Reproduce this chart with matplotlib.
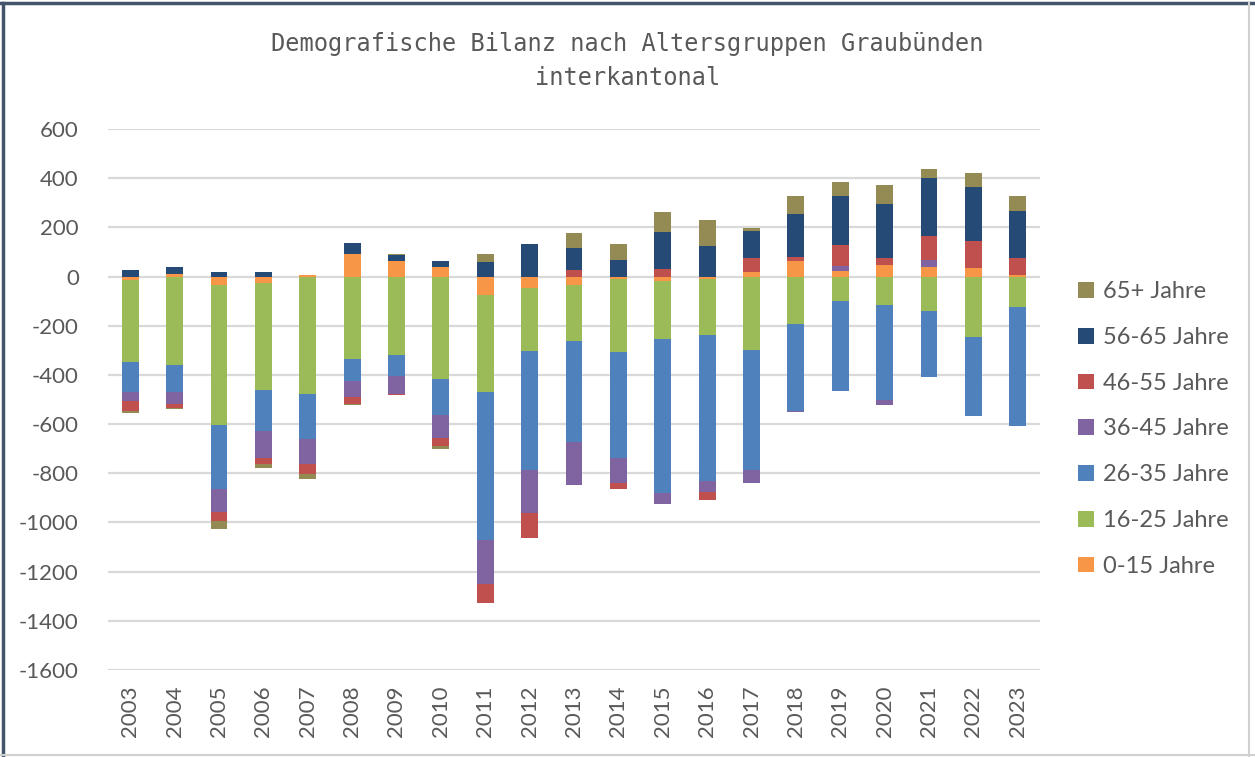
import matplotlib.pyplot as plt
import numpy as np
from matplotlib.patches import Patch
from matplotlib.lines import Line2D

plt.rcParams["axes.unicode_minus"] = False

years = [str(y) for y in range(2003, 2024)]
groups = ["0-15 Jahre", "16-25 Jahre", "26-35 Jahre", "36-45 Jahre",
          "46-55 Jahre", "56-65 Jahre", "65+ Jahre"]
colors = ["#F79646", "#9BBB59", "#4F81BD", "#8064A2",
          "#C0504D", "#254A75", "#948A54"]

# values per age group, 2003..2023
g0_15 = [-13, 10, -33, -27, 7, 92, 62, 37, -77, -46, -33, -12, -19, -12, 18, 65, 22, 45, 38, 35, 8]
g16_25 = [-335, -359, -569, -434, -477, -336, -318, -416, -393, -258, -230, -296, -234, -224, -298, -195, -100, -114, -142, -244, -122]
g26_35 = [-120, -109, -261, -169, -183, -89, -87, -145, -600, -482, -410, -429, -628, -597, -488, -352, -367, -387, -265, -325, -484]
g36_45 = [-40, -50, -95, -107, -104, -63, -72, -96, -182, -176, -174, -103, -43, -44, -53, -5, 19, -23, 31, 0, 0]
g46_55 = [-37, -16, -37, -25, -38, -30, -4, -33, -74, -102, 27, -23, 31, -31, 57, 14, 88, 30, 95, 109, 68]
g56_65 = [27, 27, 18, 18, 0, 46, 25, 28, 61, 133, 90, 68, 152, 123, 112, 176, 197, 220, 237, 219, 192]
g65 = [-11, -4, -33, -17, -23, -4, 3, -10, 31, 0, 59, 65, 81, 105, 9, 72, 57, 78, 37, 58, 59]

series = [g0_15, g16_25, g26_35, g36_45, g46_55, g56_65, g65]

fig = plt.figure(figsize=(12.55, 7.57), dpi=100, facecolor="white")
ax = fig.add_axes([108 / 1255, 1 - 670 / 757, 932 / 1255, 541 / 757])

x = np.arange(len(years))
pos = np.zeros(len(years))
neg = np.zeros(len(years))
for vals, col in zip(series, colors):
    v = np.array(vals, dtype=float)
    base = np.where(v >= 0, pos, neg)
    ax.bar(x, v, 0.38, bottom=base, color=col, zorder=3)
    pos = pos + np.where(v >= 0, v, 0)
    neg = neg + np.where(v < 0, v, 0)

ax.set_xlim(-0.5, len(years) - 0.5)
ax.set_ylim(-1600, 600)
ax.set_yticks(range(-1600, 601, 200))
ax.yaxis.grid(True, color="#D9D9D9", linewidth=1.6, zorder=0)
ax.set_xticks(x)
ax.set_xticklabels(years, rotation=90)
for s in ax.spines.values():
    s.set_visible(False)
ax.tick_params(length=0, labelsize=16, colors="#595959", labelfontfamily="Lato")
ax.tick_params(axis="y", pad=21)
ax.tick_params(axis="x", pad=11)

fig.text(0.5, 1 - 61 / 757, "Demografische Bilanz nach Altersgruppen Graubünden\ninterkantonal",
         ha="center", va="center", fontsize=17, family="DejaVu Sans Mono",
         color="#595959", linespacing=1.55)

handles = [Patch(facecolor=c, edgecolor="none") for c in colors][::-1]
fig.legend(handles, groups[::-1], loc="center left",
           bbox_to_anchor=(1057 / 1255, 1 - 429 / 757), frameon=False,
           prop={"family": "Lato", "size": 17}, labelcolor="#595959",
           handlelength=0.65, handleheight=0.65, handletextpad=0.4,
           labelspacing=1.05)

# outer frame
fig.add_artist(Line2D([0.002, 0.002], [0, 0.996], color="#44546A", lw=2.5, transform=fig.transFigure))
fig.add_artist(Line2D([0, 1], [0.996, 0.996], color="#44546A", lw=2.5, transform=fig.transFigure))
fig.add_artist(Line2D([0.995, 0.995], [0, 0.996], color="#D0D0D0", lw=1.5, transform=fig.transFigure))
fig.add_artist(Line2D([0, 1], [0.003, 0.003], color="#D0D0D0", lw=1.5, transform=fig.transFigure))

fig.savefig("out.png", dpi=100, facecolor="white")
